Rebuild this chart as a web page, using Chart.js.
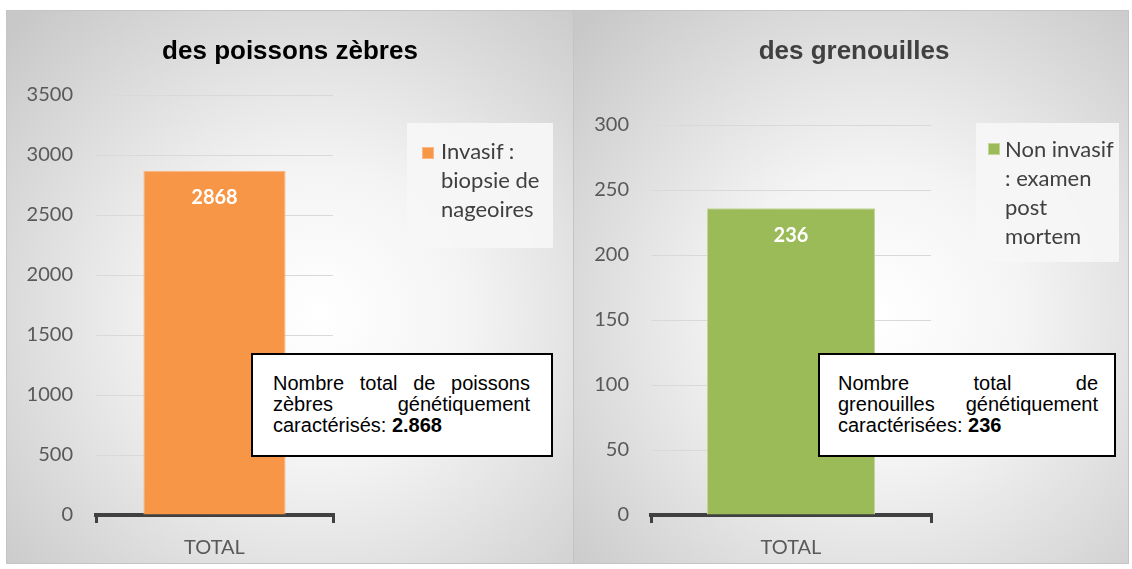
<!DOCTYPE html>
<html>
<head>
<meta charset="utf-8">
<script src="https://cdn.jsdelivr.net/npm/chart.js@4.4.1/dist/chart.umd.min.js"></script>
<style>
  html, body { margin: 0; padding: 0; background: #ffffff; }
  body { width: 1132px; height: 569px; position: relative; overflow: hidden; }
  .panel { position: absolute; box-sizing: border-box; border: 1px solid #c4c4c4; }
  #p1 { left: 6px; top: 10px; width: 568px; height: 554px;
        background: radial-gradient(ellipse 75% 75% at 55% 55%, #ffffff 0%, #f4f4f4 35%, #c8c8c8 100%); }
  #p2 { left: 573px; top: 10px; width: 556px; height: 554px;
        background: radial-gradient(ellipse 75% 75% at 55% 55%, #ffffff 0%, #f4f4f4 35%, #c8c8c8 100%); }
  canvas { position: absolute; left: 0; top: 0; }
  .title { position: absolute; left: 0; right: 0; top: 24px; text-align: center;
           font-family: "Liberation Sans", Arial, sans-serif; font-weight: bold; font-size: 26px; line-height: 30px; }
  .legend { position: absolute; box-sizing: border-box; background: rgba(246,246,246,0.92);
            font-family: Lato, "Open Sans", sans-serif; font-size: 22px; color: #404040; line-height: 29px; }
  .legend .mk { position: absolute; width: 12px; height: 12px; box-sizing: border-box; }
  .legend .txt { position: absolute; white-space: nowrap; }
  .note { position: absolute; box-sizing: border-box; background: #ffffff; border: 2px solid #000000;
          font-family: "Liberation Sans", Arial, sans-serif; font-size: 20px; line-height: 21px; color: #000; }
  .note .j { text-align: justify; text-align-last: justify; }
</style>
</head>
<body>
<div class="panel" id="p1">
  <canvas id="c1" width="566" height="552"></canvas>
  <div class="title" id="t1" style="color:#000000;"></div>
</div>
<div class="panel" id="p2">
  <canvas id="c2" width="554" height="552"></canvas>
  <div class="title" id="t2" style="color:#404040; left:6px;"></div>
</div>

<div class="legend" style="left:407px; top:123px; width:146px; height:125px;">
  <div class="mk" id="m1" style="left:15px; top:24px;"></div>
  <div class="txt" id="l1" style="left:34px; top:13px;"></div>
</div>
<div class="legend" style="left:976px; top:123px; width:143px; height:139px;">
  <div class="mk" id="m2" style="left:12px; top:20px;"></div>
  <div class="txt" id="l2" style="left:29px; top:11px;"></div>
</div>

<div class="note" id="n1" style="left:251px; top:353px; width:302px; height:104px; padding:18px 21px 0 20px;"></div>
<div class="note" id="n2" style="left:818px; top:353px; width:298px; height:104px; padding:18px 16px 0 18px;"></div>

<script>
// ---- data ----
const categories = ['TOTAL'];
const zebraTitle = 'des poissons zèbres';
const frogTitle = 'des grenouilles';
const zebraSeriesLabel = ['Invasif :', 'biopsie de', 'nageoires'];
const frogSeriesLabel = ['Non invasif', ': examen', 'post', 'mortem'];
const zebraValues = [2868];
const frogValues = [236];
const zebraTicks = [0, 500, 1000, 1500, 2000, 2500, 3000, 3500];
const frogTicks = [0, 50, 100, 150, 200, 250, 300];
const zebraNote = ['Nombre total de poissons', 'zèbres génétiquement', 'caractérisés: '];
const zebraNoteValue = '2.868';
const frogNote = ['Nombre total de', 'grenouilles génétiquement', 'caractérisées: '];
const frogNoteValue = '236';

const zebraColor = '#f79646', zebraEdge = '#fab888';
const frogColor = '#9bbb59', frogEdge = '#c2d69a';

// ---- html text ----
document.getElementById('t1').textContent = zebraTitle;
document.getElementById('t2').textContent = frogTitle;
document.getElementById('l1').innerHTML = zebraSeriesLabel.join('<br>');
document.getElementById('l2').innerHTML = frogSeriesLabel.join('<br>');
const m1 = document.getElementById('m1'); m1.style.background = zebraColor; m1.style.border = '1px solid ' + zebraEdge;
const m2 = document.getElementById('m2'); m2.style.background = frogColor; m2.style.border = '1px solid ' + frogEdge;
function fillNote(id, lines, val) {
  const el = document.getElementById(id);
  lines.forEach((ln, i) => {
    const d = document.createElement('div');
    if (i < lines.length - 1) { d.className = 'j'; d.textContent = ln; }
    else { d.textContent = ln; const b = document.createElement('b'); b.textContent = val; d.appendChild(b); }
    el.appendChild(d);
  });
}
fillNote('n1', zebraNote, zebraNoteValue);
fillNote('n2', frogNote, frogNoteValue);

// ---- charts ----
const valueLabels = {
  id: 'valueLabels',
  afterDatasetsDraw(chart) {
    const ctx = chart.ctx;
    chart.data.datasets.forEach((ds, di) => {
      chart.getDatasetMeta(di).data.forEach((bar, i) => {
        ctx.save();
        ctx.font = 'bold 20px Lato, sans-serif';
        ctx.fillStyle = '#ffffff';
        ctx.textAlign = 'center';
        ctx.textBaseline = 'middle';
        ctx.fillText(String(ds.data[i]), bar.x, bar.y + 27);
        ctx.restore();
      });
    });
  }
};

function makeChart(canvasId, values, ticks, color, edge, layout) {
  return new Chart(document.getElementById(canvasId), {
    type: 'bar',
    data: {
      labels: categories,
      datasets: [{ data: values, backgroundColor: color, borderColor: edge, borderWidth: 1,
                   barPercentage: 0.6, categoryPercentage: 1 }]
    },
    options: {
      responsive: false,
      animation: false,
      events: [],
      layout: { padding: { top: layout.top, right: layout.right, left: 0, bottom: 0 } },
      plugins: { legend: { display: false }, title: { display: false }, tooltip: { enabled: false } },
      scales: {
        x: {
          grid: { display: true, drawOnChartArea: false, drawTicks: true, tickLength: 8,
                  color: '#404040', lineWidth: 3, offset: true },
          border: { display: true, color: '#404040', width: 4 },
          ticks: { color: '#595959', font: { family: 'Lato', size: 20 }, padding: 13 },
          afterFit(s) { s.height = layout.xh; }
        },
        y: {
          min: ticks[0], max: ticks[ticks.length - 1],
          afterBuildTicks(s) { s.ticks = ticks.map(v => ({ value: v })); },
          grid: { color: '#d9d9d9', lineWidth: 1, drawTicks: false },
          border: { display: false },
          ticks: { color: '#595959', font: { family: 'Lato', size: 20 }, padding: layout.tp,
                   callback: (v) => String(v) },
          afterFit(s) { s.width = layout.yw; }
        }
      }
    },
    plugins: [valueLabels]
  });
}

makeChart('c1', zebraValues, zebraTicks, zebraColor, zebraEdge, { top: 84, right: 240, xh: 48, yw: 89, tp: 23 });
makeChart('c2', frogValues, frogTicks, frogColor, frogEdge, { top: 114, right: 197, xh: 48, yw: 77, tp: 22 });
</script>
</body>
</html>
